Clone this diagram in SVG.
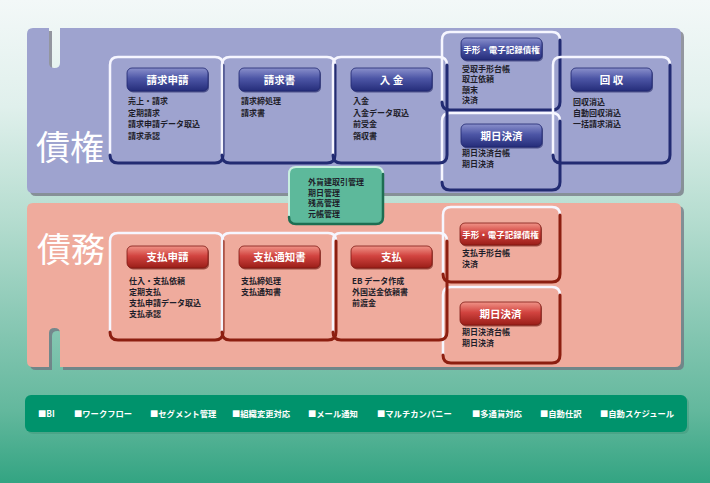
<svg xmlns="http://www.w3.org/2000/svg" width="710" height="483" viewBox="0 0 710 483">
<defs>
<linearGradient id="bg" x1="0" y1="0" x2="0" y2="1">
<stop offset="0" stop-color="#f3f8f8"/>
<stop offset="0.22" stop-color="#e0f0ec"/>
<stop offset="0.45" stop-color="#b6ddd0"/>
<stop offset="0.7" stop-color="#82c5b0"/>
<stop offset="0.85" stop-color="#63b89d"/>
<stop offset="1" stop-color="#33a482"/>
</linearGradient>
<linearGradient id="gB" x1="0" y1="0" x2="0" y2="1">
<stop offset="0" stop-color="#8a90cc"/>
<stop offset="0.45" stop-color="#4d56a6"/>
<stop offset="1" stop-color="#252d7a"/>
</linearGradient>
<linearGradient id="gR" x1="0" y1="0" x2="0" y2="1">
<stop offset="0" stop-color="#f09488"/>
<stop offset="0.45" stop-color="#d24440"/>
<stop offset="1" stop-color="#9a1e18"/>
</linearGradient>
<style>
.sh{fill:#6e6e7c;opacity:0.7}
.hl{fill:none;stroke:#f6f6ff;stroke-width:2.5;stroke-linecap:round}
.dkB{fill:none;stroke:#222b72;stroke-width:3;stroke-linecap:round}
.dkR{fill:none;stroke:#8c1e10;stroke-width:3;stroke-linecap:round}
.dkG{fill:none;stroke:#1d6e52;stroke-width:2.5;stroke-linecap:round}
.bB{fill:url(#gB);stroke:#1e2670;stroke-width:0.8}
.bR{fill:url(#gR);stroke:#7e1812;stroke-width:0.8}
.bsB{fill:#1a2060;opacity:0.6}
.bsR{fill:#6a1008;opacity:0.6}
.bt{font-family:"Noto Sans CJK JP","Noto Sans CJK SC",sans-serif;font-size:10.5px;font-weight:700;fill:#ffffff;text-anchor:middle}
.bts{font-size:8.5px}
.it{font-family:"Noto Sans CJK JP","Noto Sans CJK SC",sans-serif;font-size:8px;font-weight:700;fill:#1e1e2a}
.big{font-family:"Noto Sans CJK JP","Noto Sans CJK SC",sans-serif;font-size:34px;font-weight:400;fill:#ffffff}
.ft{font-family:"Noto Sans CJK JP","Noto Sans CJK SC",sans-serif;font-size:8.3px;font-weight:700;fill:#ffffff}
</style>
</defs>
<rect x="0" y="0" width="710" height="483" fill="url(#bg)"/>

<g id="panel-saiken">
<path class="sh" transform="translate(3,3)" d="M33,28 H49 V63 Q49,68 54.5,68 Q60,68 60,63 V28 H675 Q681,28 681,34 V187 Q681,193 675,193 H33 Q27,193 27,187 V34 Q27,28 33,28 Z"/>
<path fill="#9ea3cf" d="M33,28 H49 V63 Q49,68 54.5,68 Q60,68 60,63 V28 H675 Q681,28 681,34 V187 Q681,193 675,193 H33 Q27,193 27,187 V34 Q27,28 33,28 Z"/>
<text class="big" x="36" y="160">債権</text>
</g>

<g id="panel-saimu">
<path class="sh" transform="translate(3,3)" d="M33,203 H675 Q681,203 681,209 V361 Q681,367 675,367 H60 V333 Q60,328 54.5,328 Q49,328 49,333 V367 H33 Q27,367 27,361 V209 Q27,203 33,203 Z"/>
<path fill="#efab9d" d="M33,203 H675 Q681,203 681,209 V361 Q681,367 675,367 H60 V333 Q60,328 54.5,328 Q49,328 49,333 V367 H33 Q27,367 27,361 V209 Q27,203 33,203 Z"/>
<text class="big" x="37" y="262">債務</text>
</g>

<g id="t-tegata">
<path class="hl" d="M442,102 V40 Q442,32 450,32 H552 Q560,32 560,40"/>
<path class="dkB" d="M560,40 V102 Q560,110 552,110 H450 Q442,110 442,102"/>
<rect class="bsB" x="462" y="39.5" width="81" height="22" rx="5"/>
<rect class="bB" x="461" y="38" width="81" height="22" rx="5"/>
<text class="bt bts" x="501.5" y="52.5">手形・電子記録債権</text>
<text class="it" x="462" y="71.5">受取手形台帳</text>
<text class="it" x="462" y="82">取立依頼</text>
<text class="it" x="462" y="92.5">顛末</text>
<text class="it" x="462" y="103">決済</text>
</g>

<g id="t-kijitsu">
<path class="hl" d="M442,182 V121 Q442,113 450,113 H552 Q560,113 560,121"/>
<path class="dkB" d="M560,121 V182 Q560,190 552,190 H450 Q442,190 442,182"/>
<rect class="bsB" x="462" y="125.5" width="81" height="23" rx="5"/>
<rect class="bB" x="461" y="124" width="81" height="23" rx="5"/>
<text class="bt" x="501.5" y="139.5">期日決済</text>
<text class="it" x="462" y="156">期日決済台帳</text>
<text class="it" x="462" y="166.5">期日決済</text>
</g>

<g id="t-seikyu-shinsei">
<path class="hl" d="M110,155 V65 Q110,57 118,57 H215 Q223,57 223,65"/>
<path class="dkB" d="M223,65 V155 Q223,163 215,163 H118 Q110,163 110,155"/>
<rect class="bsB" x="128" y="69.5" width="81" height="23" rx="5"/>
<rect class="bB" x="127" y="68" width="81" height="23" rx="5"/>
<text class="bt" x="167.5" y="83.5">請求申請</text>
<text class="it" x="128" y="104">売上・請求</text>
<text class="it" x="128" y="115.5">定期請求</text>
<text class="it" x="128" y="127">請求申請データ取込</text>
<text class="it" x="128" y="138.5">請求承認</text>
</g>

<g id="t-seikyusho">
<path class="hl" d="M222,155 V65 Q222,57 230,57 H327 Q335,57 335,65"/>
<path class="dkB" d="M335,65 V155 Q335,163 327,163 H230 Q222,163 222,155"/>
<rect class="bsB" x="240" y="69.5" width="81" height="23" rx="5"/>
<rect class="bB" x="239" y="68" width="81" height="23" rx="5"/>
<text class="bt" x="279.5" y="83.5">請求書</text>
<text class="it" x="241" y="104">請求締処理</text>
<text class="it" x="241" y="115.5">請求書</text>
</g>

<g id="t-nyukin">
<path class="hl" d="M333,155 V65 Q333,57 341,57 H439 Q447,57 447,65"/>
<path class="dkB" d="M447,65 V155 Q447,163 439,163 H341 Q333,163 333,155"/>
<rect class="bsB" x="352" y="69.5" width="81" height="23" rx="5"/>
<rect class="bB" x="351" y="68" width="81" height="23" rx="5"/>
<text class="bt" x="391.5" y="83.5">入 金</text>
<text class="it" x="353" y="104">入金</text>
<text class="it" x="353" y="115.5">入金データ取込</text>
<text class="it" x="353" y="127">前受金</text>
<text class="it" x="353" y="138.5">領収書</text>
</g>

<g id="t-kaishu">
<path class="hl" d="M553,155 V65 Q553,57 561,57 H662 Q670,57 670,65"/>
<path class="dkB" d="M670,65 V155 Q670,163 662,163 H561 Q553,163 553,155"/>
<rect class="bsB" x="572" y="69.5" width="81" height="23" rx="5"/>
<rect class="bB" x="571" y="68" width="81" height="23" rx="5"/>
<text class="bt" x="611.5" y="83.5">回 収</text>
<text class="it" x="573" y="105">回収消込</text>
<text class="it" x="573" y="116">自動回収消込</text>
<text class="it" x="573" y="127">一括請求消込</text>
</g>

<g id="b-tegata">
<path class="hl" d="M443,274 V215 Q443,207 451,207 H552 Q560,207 560,215"/>
<path class="dkR" d="M560,215 V274 Q560,282 552,282 H451 Q443,282 443,274"/>
<rect class="bsR" x="461" y="224.5" width="81" height="22" rx="5"/>
<rect class="bR" x="460" y="223" width="81" height="22" rx="5"/>
<text class="bt bts" x="500.5" y="237.5">手形・電子記録債権</text>
<text class="it" x="462" y="256">支払手形台帳</text>
<text class="it" x="462" y="266.5">決済</text>
</g>

<g id="b-kijitsu">
<path class="hl" d="M443,355 V295 Q443,287 451,287 H552 Q560,287 560,295"/>
<path class="dkR" d="M560,295 V355 Q560,363 552,363 H451 Q443,363 443,355"/>
<rect class="bsR" x="461" y="303.5" width="81" height="23" rx="5"/>
<rect class="bR" x="460" y="302" width="81" height="23" rx="5"/>
<text class="bt" x="500.5" y="317.5">期日決済</text>
<text class="it" x="462" y="335">期日決済台帳</text>
<text class="it" x="462" y="346">期日決済</text>
</g>

<g id="b-shiharai-shinsei">
<path class="hl" d="M110,332 V241 Q110,233 118,233 H215 Q223,233 223,241"/>
<path class="dkR" d="M223,241 V332 Q223,340 215,340 H118 Q110,340 110,332"/>
<rect class="bsR" x="128" y="247.5" width="81" height="22" rx="5"/>
<rect class="bR" x="127" y="246" width="81" height="22" rx="5"/>
<text class="bt" x="167.5" y="261">支払申請</text>
<text class="it" x="129" y="283.5">仕入・支払依頼</text>
<text class="it" x="129" y="294.5">定期支払</text>
<text class="it" x="129" y="305.5">支払申請データ取込</text>
<text class="it" x="129" y="316.5">支払承認</text>
</g>

<g id="b-shiharai-tsuchisho">
<path class="hl" d="M222,332 V241 Q222,233 230,233 H328 Q336,233 336,241"/>
<path class="dkR" d="M336,241 V332 Q336,340 328,340 H230 Q222,340 222,332"/>
<rect class="bsR" x="240" y="247.5" width="81" height="22" rx="5"/>
<rect class="bR" x="239" y="246" width="81" height="22" rx="5"/>
<text class="bt" x="279.5" y="261">支払通知書</text>
<text class="it" x="241" y="283.5">支払締処理</text>
<text class="it" x="241" y="294.5">支払通知書</text>
</g>

<g id="b-shiharai">
<path class="hl" d="M333,332 V241 Q333,233 341,233 H439 Q447,233 447,241"/>
<path class="dkR" d="M447,241 V332 Q447,340 439,340 H341 Q333,340 333,332"/>
<rect class="bsR" x="352" y="247.5" width="81" height="22" rx="5"/>
<rect class="bR" x="351" y="246" width="81" height="22" rx="5"/>
<text class="bt" x="391.5" y="261">支払</text>
<text class="it" x="352" y="283.5">EB データ作成</text>
<text class="it" x="352" y="294.5">外国送金依頼書</text>
<text class="it" x="352" y="305.5">前渡金</text>
</g>

<g id="common">
<rect x="289" y="167" width="94" height="57" rx="7" fill="#5db99b"/>
<path class="hl" style="stroke:#c8eee0;stroke-width:2" d="M289,217 V174 Q289,167 296,167 H376 Q383,167 383,174"/>
<path class="dkG" d="M383,174 V217 Q383,224 376,224 H296 Q289,224 289,217"/>
<text class="it" x="308" y="185">外貨建取引管理</text>
<text class="it" x="308" y="195.5">期日管理</text>
<text class="it" x="308" y="206">残高管理</text>
<text class="it" x="308" y="216.5">元帳管理</text>
</g>

<g id="features">
<rect x="27" y="397" width="662" height="37" rx="6" fill="#3a8a70" opacity="0.35"/>
<rect x="25" y="395" width="662" height="37" rx="6" fill="#00936c"/>
<text class="ft" x="38" y="417">■BI</text>
<text class="ft" x="74" y="417">■ワークフロー</text>
<text class="ft" x="150" y="417">■セグメント管理</text>
<text class="ft" x="232" y="417">■組織変更対応</text>
<text class="ft" x="308" y="417">■メール通知</text>
<text class="ft" x="377" y="417">■マルチカンパニー</text>
<text class="ft" x="472" y="417">■多通貨対応</text>
<text class="ft" x="540" y="417">■自動仕訳</text>
<text class="ft" x="600" y="417">■自動スケジュール</text>
</g>

<g id="connectors"/>
</svg>
